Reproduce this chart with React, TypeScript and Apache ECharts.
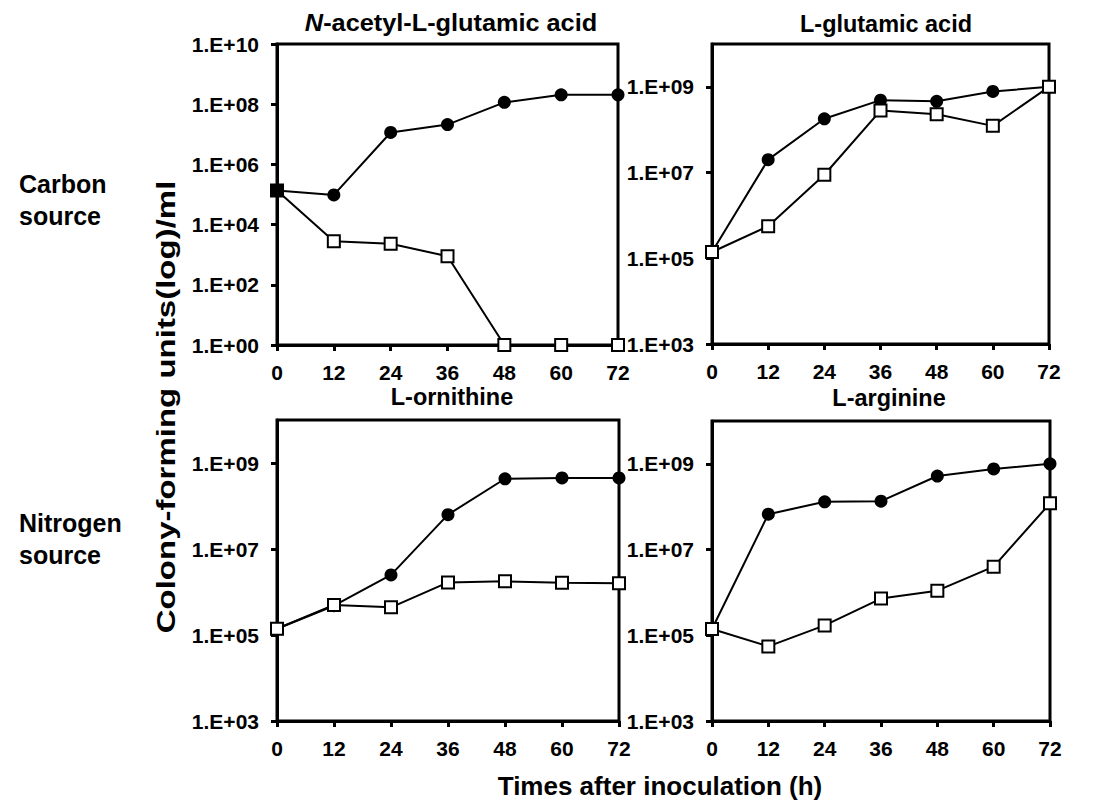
import React, { useEffect, useRef } from "react";
import * as echarts from "echarts";

// ---- data ----
const TIMES = [0, 12, 24, 36, 48, 60, 72];

const PANEL_TITLES = ["N-acetyl-L-glutamic acid", "L-glutamic acid", "L-ornithine", "L-arginine"];

// filled circles
const NAG_FILLED = [1.35e5, 9.7e4, 1.15e7, 2.1e7, 1.15e8, 2.05e8, 2.05e8];
const GLU_FILLED = [1.4e5, 2.0e7, 1.8e8, 4.9e8, 4.6e8, 7.8e8, 1.0e9];
const ORN_FILLED = [1.4e5, 4.8e5, 2.5e6, 6.3e7, 4.3e8, 4.5e8, 4.5e8];
const ARG_FILLED = [1.4e5, 6.7e7, 1.3e8, 1.35e8, 5.2e8, 7.6e8, 1.0e9];

// open squares
const NAG_OPEN = [1.35e5, 2.8e3, 2.3e3, 8.9e2, 1, 1, 1];
const GLU_OPEN = [1.4e5, 5.6e5, 8.9e6, 2.8e8, 2.3e8, 1.23e8, 1.0e9];
const ORN_OPEN = [1.4e5, 5.0e5, 4.4e5, 1.67e6, 1.77e6, 1.65e6, 1.6e6];
const ARG_OPEN = [1.4e5, 5.5e4, 1.7e5, 7.2e5, 1.1e6, 4.0e6, 1.2e8];

const FILLED = [NAG_FILLED, GLU_FILLED, ORN_FILLED, ARG_FILLED];
const OPEN = [NAG_OPEN, GLU_OPEN, ORN_OPEN, ARG_OPEN];

// y axis (log10 exponents)
const Y_EXP_RANGE_FIRST = [0, 10];
const Y_EXP_TICKS_FIRST = [0, 2, 4, 6, 8, 10];
const Y_EXP_RANGE_OTHER = [3, 10];
const Y_EXP_TICKS_OTHER = [3, 5, 7, 9];

const X_MIN = 0;
const X_MAX = 72;
const X_STEP = 12;

const X_TITLE = "Times after inoculation (h)";
const Y_TITLE = "Colony-forming units(log)/ml";
const ROW_LABELS = ["Carbon\nsource", "Nitrogen\nsource"];

const FONT = "'Liberation Sans', Arial, Helvetica, sans-serif";

export default function App() {
  const ref = useRef<HTMLDivElement>(null);

  useEffect(() => {
    document.body.style.margin = "0";
    if (!ref.current) return;
    const chart = echarts.init(ref.current, undefined, { renderer: "svg" });

    const grids = [
      { left: 277, top: 44, width: 341, height: 301 },
      { left: 712, top: 44, width: 337, height: 300 },
      { left: 277, top: 420, width: 342, height: 301 },
      { left: 712, top: 421, width: 338, height: 300 },
    ].map((g) => ({
      ...g,
      show: true,
      borderColor: "#000",
      borderWidth: 3,
      backgroundColor: "transparent",
    }));

    const labelStyle = {
      color: "#000",
      fontSize: 21,
      fontWeight: "bold" as const,
      fontFamily: FONT,
    };

    const xAxes = grids.map((_, i) => ({
      type: "value",
      gridIndex: i,
      min: X_MIN,
      max: X_MAX,
      interval: X_STEP,
      axisLine: { show: true, lineStyle: { color: "#000", width: 3 } },
      axisTick: { show: true, inside: false, length: 6, lineStyle: { color: "#000", width: 3 } },
      axisLabel: { ...labelStyle, margin: 17 },
      splitLine: { show: false },
    }));

    const yAxes = grids.map((_, i) => {
      const range = i === 0 ? Y_EXP_RANGE_FIRST : Y_EXP_RANGE_OTHER;
      const ticks = i === 0 ? Y_EXP_TICKS_FIRST : Y_EXP_TICKS_OTHER;
      return {
        type: "value",
        gridIndex: i,
        min: range[0],
        max: range[1],
        axisLine: { show: true, lineStyle: { color: "#000", width: 3 } },
        axisTick: {
          show: true,
          inside: false,
          length: 6,
          customValues: ticks,
          lineStyle: { color: "#000", width: 3 },
        },
        axisLabel: {
          ...labelStyle,
          margin: 18,
          customValues: ticks,
          formatter: (v: number) => "1.E+" + String(Math.round(v)).padStart(2, "0"),
        },
        splitLine: { show: false },
      };
    });

    const series: any[] = [];
    grids.forEach((_, p) => {
      series.push({
        type: "line",
        name: "filled " + PANEL_TITLES[p],
        xAxisIndex: p,
        yAxisIndex: p,
        data: TIMES.map((t, i) => [t, Math.log10(FILLED[p][i])]),
        symbol: "circle",
        symbolSize: 13,
        itemStyle: { color: "#000" },
        lineStyle: { color: "#000", width: 2 },
        clip: false,
        z: 3,
      });
      series.push({
        type: "line",
        name: "open " + PANEL_TITLES[p],
        xAxisIndex: p,
        yAxisIndex: p,
        data: TIMES.map((t, i) => {
          const pt = [t, Math.log10(OPEN[p][i])];
          if (p === 0 && i === 0) {
            return { value: pt, itemStyle: { color: "#000", borderColor: "#000" } };
          }
          return pt;
        }),
        symbol: "rect",
        symbolSize: 12,
        itemStyle: { color: "#fff", borderColor: "#000", borderWidth: 2 },
        lineStyle: { color: "#000", width: 2 },
        clip: false,
        z: 4,
      });
    });

    const titlePos = [
      [451, 23],
      [886, 24],
      [452, 397],
      [889, 398],
    ];
    const titleScale = [1.1, 1.02, 1.02, 1.02];

    const baseText = {
      fontSize: 23,
      fontWeight: "bold",
      fontFamily: FONT,
      fill: "#000",
    };

    const graphics: any[] = titlePos.map(([x, y], i) => {
      if (i === 0) {
        const rest = PANEL_TITLES[0].slice(1);
        return {
          type: "text",
          x,
          y,
          scaleX: titleScale[i],
          style: {
            text: "{i|N}{n|" + rest + "}",
            align: "center",
            verticalAlign: "middle",
            textAlign: "center",
            textVerticalAlign: "middle",
            ...baseText,
            rich: {
              i: { ...baseText, fontStyle: "italic" },
              n: { ...baseText },
            },
          },
        };
      }
      return {
        type: "text",
        x,
        y,
        scaleX: titleScale[i],
        style: {
          text: PANEL_TITLES[i],
          align: "center",
          verticalAlign: "middle",
          textAlign: "center",
          textVerticalAlign: "middle",
          ...baseText,
        },
      };
    });

    graphics.push({
      type: "text",
      x: 660,
      y: 786,
      style: {
        text: X_TITLE,
        align: "center",
        verticalAlign: "middle",
        textAlign: "center",
        textVerticalAlign: "middle",
        ...baseText,
        fontSize: 26,
      },
    });

    graphics.push({
      type: "text",
      x: 166,
      y: 407,
      rotation: Math.PI / 2,
      scaleX: 1.32,
      scaleY: 1,
      style: {
        text: Y_TITLE,
        align: "center",
        verticalAlign: "middle",
        textAlign: "center",
        textVerticalAlign: "middle",
        ...baseText,
        fontSize: 25,
      },
    });

    const rowPos = [
      [19, 200],
      [19, 539],
    ];
    ROW_LABELS.forEach((t, i) => {
      graphics.push({
        type: "text",
        x: rowPos[i][0],
        y: rowPos[i][1],
        style: {
          text: t,
          align: "left",
          verticalAlign: "middle",
          textAlign: "left",
          textVerticalAlign: "middle",
          lineHeight: 32,
          ...baseText,
          fontSize: 25,
        },
      });
    });

    chart.setOption({
      animation: false,
      backgroundColor: "#fff",
      grid: grids,
      xAxis: xAxes,
      yAxis: yAxes,
      series,
      graphic: graphics,
    });

    return () => chart.dispose();
  }, []);

  return <div ref={ref} style={{ width: 1106, height: 806 }} />;
}
